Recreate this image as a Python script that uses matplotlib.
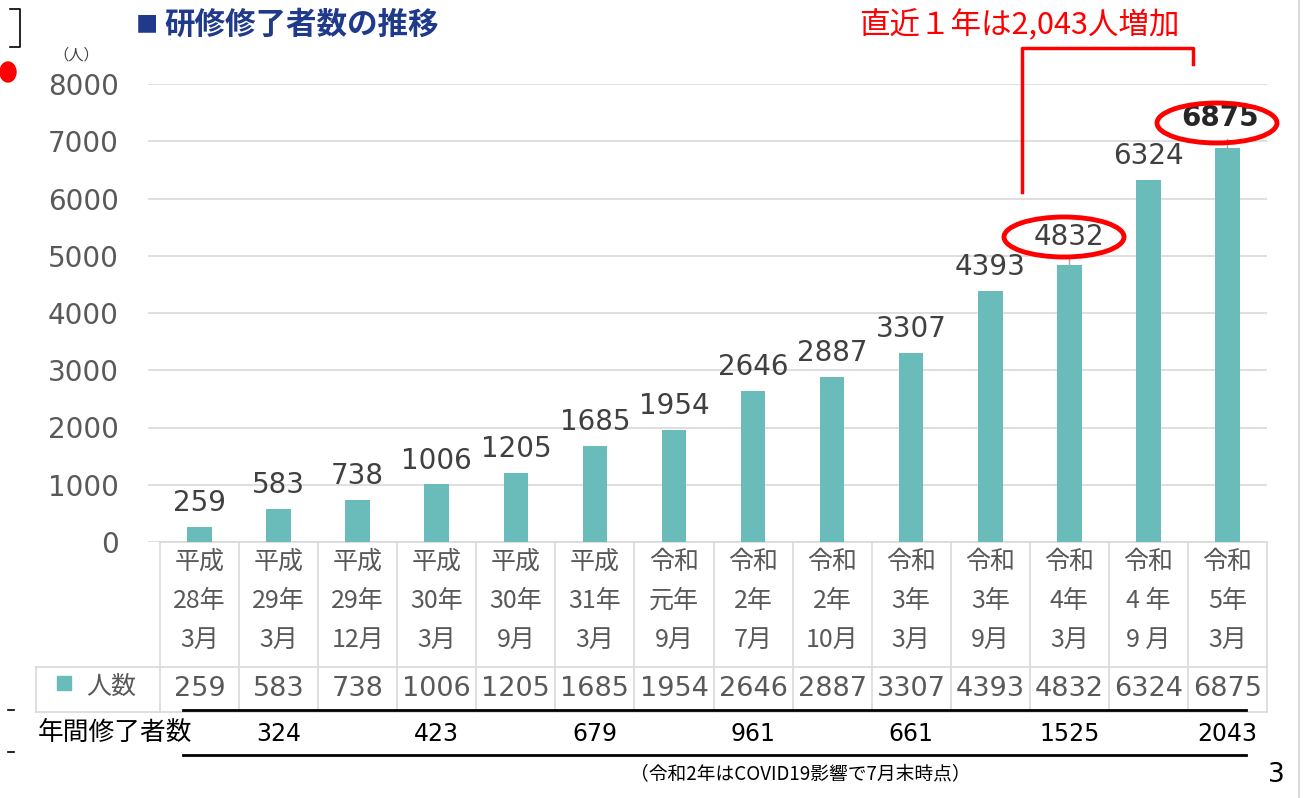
import matplotlib
matplotlib.use("Agg")
import matplotlib.pyplot as plt
from matplotlib.patches import Ellipse, Rectangle
from matplotlib.transforms import blended_transform_factory
import numpy as np

plt.rcParams['font.family'] = ['Noto Sans CJK JP', 'DejaVu Sans']

# Data
era = ['平成', '平成', '平成', '平成', '平成', '平成', '令和', '令和', '令和', '令和', '令和', '令和', '令和', '令和']
year = ['28年', '29年', '29年', '30年', '30年', '31年', '元年', '2年', '2年', '3年', '3年', '4年', '4 年', '5年']
month = ['3月', '3月', '12月', '3月', '9月', '3月', '9月', '7月', '10月', '3月', '9月', '3月', '9 月', '3月']
trainees = [259, 583, 738, 1006, 1205, 1685, 1954, 2646, 2887, 3307, 4393, 4832, 6324, 6875]
annual = [324, 423, 679, 961, 661, 1525, 2043]
annual_end = [1, 3, 5, 7, 9, 11, 13]   # period index where each yearly count ends
circled = [11, 13]
yticks = [0, 1000, 2000, 3000, 4000, 5000, 6000, 7000, 8000]

W, H = 1305, 798
def fx(px): return px / W
def fy(py): return 1 - py / H

fig = plt.figure(figsize=(W / 100, H / 100), dpi=100)
fig.patch.set_facecolor('white')

# plot area (pixels): gridlines from 148 to 1267, y 0 at 542 and 8000 at 84
ax = fig.add_axes([fx(148), fy(542), fx(1267) - fx(148), fy(84) - fy(542)])
n = len(trainees)
colw = (1267 - 160) / n
ax.set_xlim(-0.5 - (160 - 148) / colw, n - 0.5)
ax.set_ylim(0, 8000)

bar_col = '#69BCB9'
x = np.arange(n)
ax.bar(x, trainees, width=0.31, color=bar_col, zorder=3)

ax.set_yticks(yticks)
ax.set_yticklabels([str(v) for v in yticks], family='DejaVu Sans', fontsize=20, color='#595959')
ax.tick_params(axis='y', length=0, pad=21)
ax.tick_params(axis='x', length=0, labelbottom=False)
ax.grid(axis='y', color='#D9D9D9', lw=1.2, zorder=0)
for s in ['top', 'right', 'left', 'bottom']:
    ax.spines[s].set_visible(False)

# data labels
for i, v in enumerate(trainees):
    if i == 13:
        ax.annotate(str(v), (i, v), xytext=(-5, 12), textcoords='offset points', ha='center', va='bottom',
                    family='DejaVu Sans', fontsize=20, fontweight='bold', color='#262626')
    elif i == 11:
        ax.annotate(str(v), (i, v), xytext=(0, 10), textcoords='offset points', ha='center', va='bottom',
                    family='DejaVu Sans', fontsize=20, color='#404040')
    else:
        ax.annotate(str(v), (i, v), xytext=(0, 7), textcoords='offset points', ha='center', va='bottom',
                    family='DejaVu Sans', fontsize=20, color='#404040')
# leader lines for the two circled labels
for i in circled:
    ax.plot([i, i], [trainees[i], trainees[i] + 170], color='#A6A6A6', lw=1, clip_on=False, zorder=4)

# table under the axis
tr = blended_transform_factory(ax.transData, fig.transFigure)
gridc = '#D9D9D9'
edges = np.arange(n + 1) - 0.5
ax.plot([-0.5, n - 0.5], [fy(542), fy(542)], transform=tr, color=gridc, lw=1.2, clip_on=False)
for e in edges:
    ax.plot([e, e], [fy(542), fy(712)], transform=tr, color=gridc, lw=1.2, clip_on=False)
fig.add_artist(plt.Line2D([fx(36), fx(1267)], [fy(667), fy(667)], color=gridc, lw=1.2))
fig.add_artist(plt.Line2D([fx(36), fx(1267)], [fy(712), fy(712)], color=gridc, lw=1.2))
fig.add_artist(plt.Line2D([fx(36), fx(36)], [fy(667), fy(712)], color=gridc, lw=1.2))

for i in range(n):
    ax.text(i, fy(562), era[i], transform=tr, ha='center', va='center', fontsize=18, color='#595959')
    ax.text(i, fy(601), year[i], transform=tr, ha='center', va='center', fontsize=18, color='#595959')
    ax.text(i, fy(640), month[i], transform=tr, ha='center', va='center', fontsize=18, color='#595959')
    ax.text(i, fy(689), str(trainees[i]), transform=tr, ha='center', va='center',
            family='DejaVu Sans', fontsize=19.5, color='#595959')

fig.add_artist(Rectangle((fx(57), fy(690)), fx(14), 14 / H, color=bar_col))
fig.text(fx(86), fy(687), '人数', ha='left', va='center', fontsize=18, color='#595959')

# yearly completions row
fig.add_artist(plt.Line2D([fx(183), fx(1246)], [fy(710), fy(710)], color='black', lw=2))
fig.add_artist(plt.Line2D([fx(183), fx(1246)], [fy(755), fy(755)], color='black', lw=2))
fig.text(fx(38), fy(733), '年間修了者数', ha='left', va='center', fontsize=18.5, color='black')
for k, v in zip(annual_end, annual):
    ax.text(k, fy(734), str(v), transform=tr, ha='center', va='center',
            family='DejaVu Sans', fontsize=17, color='black')

fig.text(fx(800), fy(775), '（令和2年はCOVID19影響で7月末時点）', ha='center', va='center', fontsize=13.5, color='black')
fig.text(fx(1276), fy(775), '3', ha='center', va='center', family='DejaVu Sans', fontsize=19, color='black')

# title and unit
fig.text(fx(136), fy(25), '■', ha='left', va='center', fontsize=16, color='#1F3A8A')
fig.text(fx(164), fy(25), '研修修了者数の推移', ha='left', va='center', fontsize=22, fontweight='bold', color='#1F3A8A')
fig.text(fx(76), fy(55), '（人）', ha='center', va='center', fontsize=11, color='#404040')

# red annotation
red = '#FF0000'
fig.text(fx(1019), fy(25), '直近１年は2,043人増加', ha='center', va='center', fontsize=22, color=red)
fig.add_artist(plt.Line2D([fx(1022), fx(1022), fx(1193), fx(1193)], [fy(192), fy(48), fy(48), fy(64)],
                          color=red, lw=2.5))
fig.add_artist(Ellipse((fx(1064), fy(237)), 120 / W, 40 / H, fill=False, ec=red, lw=3.5))
fig.add_artist(Ellipse((fx(1217), fy(123)), 120 / W, 40 / H, fill=False, ec=red, lw=3.5))

# page edge remnants
fig.add_artist(plt.Line2D([fx(1299), fx(1299)], [0, 1], color='#D9D9D9', lw=1.5))
fig.add_artist(plt.Line2D([fx(10), fx(20), fx(20), fx(10)], [fy(9), fy(9), fy(47), fy(47)], color='black', lw=1.2))
fig.add_artist(Ellipse((fx(8), fy(72)), 16 / W, 20 / H, color=red))
fig.add_artist(plt.Line2D([fx(8), fx(14)], [fy(710), fy(710)], color='black', lw=1.2))
fig.add_artist(plt.Line2D([fx(8), fx(14)], [fy(752), fy(752)], color='black', lw=1.2))

fig.savefig('out.png', dpi=100, facecolor='white')
